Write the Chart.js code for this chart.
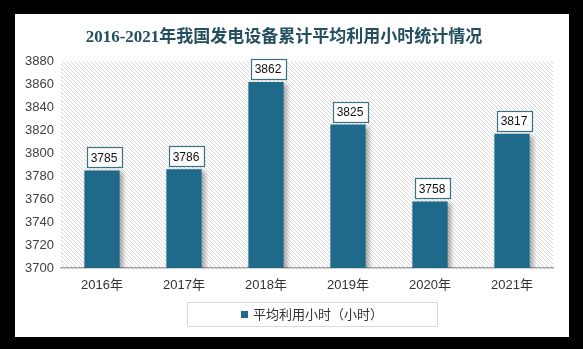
<!DOCTYPE html>
<html>
<head>
<meta charset="utf-8">
<script src="https://cdn.jsdelivr.net/npm/chart.js@4"></script>
<style>
  html, body { margin: 0; padding: 0; background: #000; }
  #frame { position: absolute; left: 15px; top: 14px; width: 554px; height: 323px; background: #fff; }
</style>
</head>
<body>
<div id="frame"><canvas id="bar" width="554" height="323"></canvas></div>
<script>
// data
var years = ["2016年", "2017年", "2018年", "2019年", "2020年", "2021年"];
var hours = [3785, 3786, 3862, 3825, 3758, 3817];
var seriesName = "平均利用小时（小时）";
var chartTitle = "2016-2021年我国发电设备累计平均利用小时统计情况";

var barColor = "#1f6a8b";

// hatched background of the plot area
function makeHatch() {
	var c = document.createElement("canvas");
	c.width = 4; c.height = 4;
	var g = c.getContext("2d");
	g.strokeStyle = "#d9d9d9";
	g.lineWidth = 1;
	g.beginPath();
	g.moveTo(-1, -1); g.lineTo(5, 5);
	g.moveTo(-1, 3); g.lineTo(1, 5);
	g.moveTo(3, -1); g.lineTo(5, 1);
	g.stroke();
	return g.createPattern(c, "repeat");
}

var hatchBg = {
	id: "hatchBg",
	beforeDraw: function (chart) {
		var a = chart.chartArea, ctx = chart.ctx;
		ctx.save();
		ctx.fillStyle = makeHatch();
		ctx.fillRect(a.left, a.top, a.right - a.left, a.bottom - a.top);
		ctx.restore();
	}
};

var barShadow = {
	id: "barShadow",
	beforeDatasetDraw: function (chart) {
		var ctx = chart.ctx;
		ctx.save();
		ctx.shadowColor = "rgba(0,0,0,0.35)";
		ctx.shadowBlur = 5;
		ctx.shadowOffsetX = 3;
		ctx.shadowOffsetY = 2;
	},
	afterDatasetDraw: function (chart) {
		chart.ctx.restore();
	}
};

var valueBoxes = {
	id: "valueBoxes",
	afterDatasetsDraw: function (chart) {
		var ctx = chart.ctx;
		var meta = chart.getDatasetMeta(0);
		ctx.save();
		ctx.font = "12px 'Liberation Sans', sans-serif";
		ctx.textAlign = "center";
		ctx.textBaseline = "middle";
		meta.data.forEach(function (bar, i) {
			var cx = bar.x + 2, w = 35, h = 20;
			var bottom = bar.y - 3;
			ctx.fillStyle = "#fff";
			ctx.fillRect(cx - w / 2, bottom - h, w, h);
			ctx.strokeStyle = "#3b7283";
			ctx.lineWidth = 1.2;
			ctx.strokeRect(Math.round(cx - w / 2) + 0.5, Math.round(bottom - h) + 0.5, w, h);
			ctx.fillStyle = "#111";
			ctx.fillText(String(chart.data.datasets[0].data[i]), cx, bottom - h / 2 + 1);
		});
		ctx.restore();
	}
};

var boxLegend = {
	id: "boxLegend",
	afterDraw: function (chart) {
		var ctx = chart.ctx;
		ctx.save();
		ctx.strokeStyle = "#d9d9d9";
		ctx.lineWidth = 1;
		ctx.strokeRect(172.5, 288.5, 250, 24);
		ctx.fillStyle = barColor;
		ctx.fillRect(226, 297, 7, 7);
		ctx.fillStyle = "#333";
		ctx.font = "13px 'Noto Sans CJK SC', sans-serif";
		ctx.textBaseline = "middle";
		ctx.fillText(chart.data.datasets[0].label, 238, 300.5);
		ctx.restore();
	}
};

var ctx = document.getElementById("bar").getContext("2d");

var barChart = new Chart(ctx, {
	type: "bar",
	data: {
		labels: years,
		datasets: [
			{
				label: seriesName,
				data: hours,
				backgroundColor: barColor,
				borderWidth: 0,
				categoryPercentage: 1,
				barPercentage: 0.43
			}
		]
	},
	options: {
		responsive: false,
		animation: false,
		layout: { padding: { left: 0, right: 16, top: 0, bottom: 0 } },
		plugins: {
			legend: { display: false },
			tooltip: { enabled: false },
			title: {
				display: true,
				text: chartTitle,
				color: "#234f5e",
				font: { family: "'Liberation Serif', 'Noto Sans CJK SC', serif", size: 17, weight: "bold" },
				padding: { top: 13, bottom: 14 }
			}
		},
		scales: {
			y: {
				min: 3700,
				max: 3880,
				ticks: {
					stepSize: 20,
					color: "#404040",
					padding: 7,
					font: { family: "'Liberation Sans', sans-serif", size: 13 },
					callback: function (v) { return String(v); }
				},
				grid: { display: false, drawTicks: false },
				border: { display: false },
				afterFit: function (scale) { scale.width = 46; }
			},
			x: {
				ticks: {
					color: "#333",
					padding: 10,
					font: { family: "'Liberation Sans', 'Noto Sans CJK SC', sans-serif", size: 13 }
				},
				grid: { display: false, drawTicks: false },
				border: { display: true, color: "#a6a6a6", width: 1.5 },
				afterFit: function (scale) { scale.height = 69; }
			}
		}
	},
	plugins: [hatchBg, barShadow, valueBoxes, boxLegend]
});
</script>
</body>
</html>
